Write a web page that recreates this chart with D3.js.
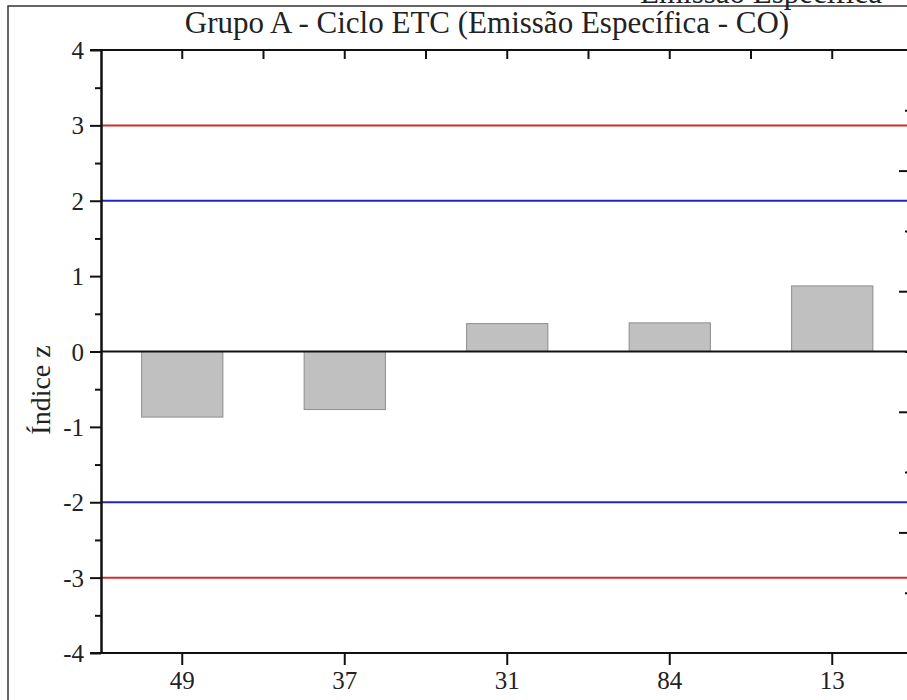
<!DOCTYPE html>
<html>
<head>
<meta charset="utf-8">
<script src="https://cdn.jsdelivr.net/npm/d3@7"></script>
<style>
  html, body { margin: 0; padding: 0; background: #fff; }
  svg { display: block; }
  text { font-family: "Liberation Serif", "Times New Roman", serif; fill: #222; }
</style>
</head>
<body>
<svg id="chart" width="907" height="700"></svg>
<script>
// Data
const categories = ["49", "37", "31", "84", "13"];
const zValues = [-0.87, -0.77, 0.37, 0.38, 0.87];
const yTicks = [-4, -3, -2, -1, 0, 1, 2, 3, 4];
const yMinorTicks = [-3.5, -2.5, -1.5, -0.5, 0.5, 1.5, 2.5, 3.5];
const warnLevels = [2, -2];     // |z| = 2 (blue)
const actionLevels = [3, -3];   // |z| = 3 (red)
const titleText = "Grupo A - Ciclo ETC (Emissão Específica - CO)";
const yLabel = "Índice z";
// neighbouring panel, only its left-axis ticks reach into view
const nextMajor = [-3, -1, 1, 3];
const nextMinor = [-4, -2, 0, 2, 4];

const svg = d3.select("#chart");

// outer figure frame
svg.append("rect")
  .attr("x", 8).attr("y", 6)
  .attr("width", 1000).attr("height", 1000)
  .attr("fill", "none").attr("stroke", "#333").attr("stroke-width", 1.5);

// title of the panel above, mostly outside the page
svg.append("text")
  .attr("x", 640).attr("y", 3)
  .attr("font-size", 31)
  .text("Emissão Específica - CO");

const plotL = 101, plotR = 913.5, plotT = 50, plotB = 653;

const x = d3.scaleBand().domain(categories).range([plotL, plotR])
  .paddingInner(0.5).paddingOuter(0.25);
const y = d3.scaleLinear().domain([-4, 4]).range([plotB, plotT]);

// title
svg.append("text")
  .attr("x", 487).attr("y", 33)
  .attr("text-anchor", "middle")
  .attr("font-size", 31)
  .text(titleText);

// bars
svg.append("g").selectAll("rect")
  .data(zValues)
  .join("rect")
  .attr("x", (d, i) => x(categories[i]))
  .attr("width", x.bandwidth())
  .attr("y", d => y(Math.max(0, d)))
  .attr("height", d => Math.abs(y(d) - y(0)))
  .attr("fill", "#c0c0c0")
  .attr("stroke", "#8c8c8c")
  .attr("stroke-width", 1);

// reference lines
const refs = [
  ...actionLevels.map(v => ({ v, c: "#d42b2b" })),
  ...warnLevels.map(v => ({ v, c: "#2323c4" }))
];
svg.append("g").selectAll("line")
  .data(refs)
  .join("line")
  .attr("x1", plotL).attr("x2", plotR)
  .attr("y1", d => y(d.v)).attr("y2", d => y(d.v))
  .attr("stroke", d => d.c).attr("stroke-width", 2);

// zero line
svg.append("line")
  .attr("x1", plotL).attr("x2", plotR)
  .attr("y1", y(0)).attr("y2", y(0))
  .attr("stroke", "#111").attr("stroke-width", 2);

function styleAxis(g) {
  g.attr("font-family", null).attr("font-size", null);
  g.selectAll(".domain").attr("stroke", "#111").attr("stroke-width", 2);
  g.selectAll(".tick line").attr("stroke", "#111").attr("stroke-width", 2);
  g.selectAll(".tick text")
    .style("font-size", "25px").attr("fill", "#222");
}

// left axis: major ticks with labels, minor ticks unlabeled
const gy = svg.append("g").attr("transform", `translate(${plotL},0)`)
  .call(d3.axisLeft(y).tickValues(yTicks).tickSize(11).tickPadding(6)
    .tickFormat(d => String(d)).tickSizeOuter(0));
styleAxis(gy);
gy.selectAll(".tick text").attr("dy", "0.34em");
const gyMinor = svg.append("g").attr("transform", `translate(${plotL},0)`)
  .call(d3.axisLeft(y).tickValues(yMinorTicks).tickSize(6).tickFormat("").tickSizeOuter(0));
styleAxis(gyMinor);

// bottom axis
const gx = svg.append("g").attr("transform", `translate(0,${plotB})`)
  .call(d3.axisBottom(x).tickSize(12).tickPadding(6).tickSizeOuter(0));
styleAxis(gx);
gx.select(".domain").attr("d", `M${plotL - 11},0H${plotR}`);

// top frame with inward ticks at categories and between them
const topTicks = [];
categories.forEach((c, i) => {
  const cx = x(c) + x.bandwidth() / 2;
  topTicks.push(cx);
  if (i < categories.length - 1) topTicks.push(cx + x.step() / 2);
});
const gTop = svg.append("g");
gTop.append("line")
  .attr("x1", plotL - 11).attr("x2", plotR)
  .attr("y1", plotT).attr("y2", plotT)
  .attr("stroke", "#111").attr("stroke-width", 2);
gTop.selectAll("line.tt")
  .data(topTicks)
  .join("line").attr("class", "tt")
  .attr("x1", d => d).attr("x2", d => d)
  .attr("y1", plotT).attr("y2", plotT + 9)
  .attr("stroke", "#111").attr("stroke-width", 2);

// neighbouring panel's left axis, just past the right edge
const y2 = d3.scaleLinear().domain([-5, 5]).range([plotB, plotT]);
const gNext = svg.append("g").attr("transform", "translate(909,0)")
  .call(d3.axisLeft(y2).tickValues(nextMajor).tickSize(10).tickFormat("").tickSizeOuter(0));
const gNextMinor = svg.append("g").attr("transform", "translate(909,0)")
  .call(d3.axisLeft(y2).tickValues(nextMinor).tickSize(4).tickFormat("").tickSizeOuter(0));
[gNext, gNextMinor].forEach(g => {
  g.select(".domain").attr("stroke", "#111").attr("stroke-width", 2);
  g.selectAll(".tick line").attr("stroke", "#111").attr("stroke-width", 2);
});

// y-axis label
svg.append("text")
  .attr("transform", "translate(50,390) rotate(-90)")
  .attr("text-anchor", "middle")
  .attr("font-size", 28)
  .text(yLabel);
</script>
</body>
</html>
